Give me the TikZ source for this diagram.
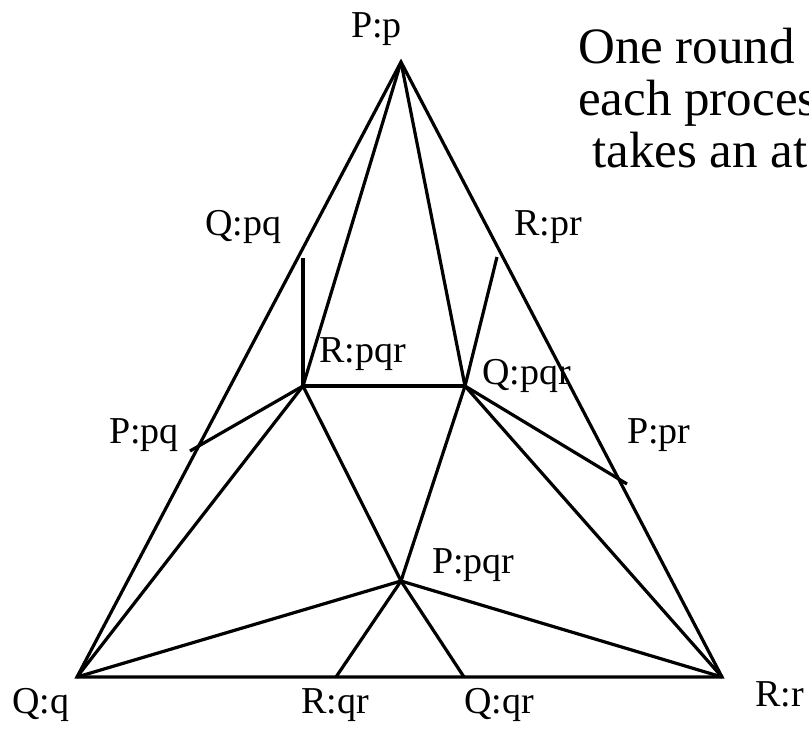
\documentclass[tikz,border=0pt]{standalone}
\usepackage{fontspec}
\setmainfont{Liberation Serif}
\begin{document}
\begin{tikzpicture}[x=1pt,y=-1pt,
  edge/.style={line width=3.2pt,line cap=butt},
  lab/.style={anchor=base west,inner sep=0pt,font=\fontsize{38}{40}\selectfont},
  big/.style={anchor=base west,inner sep=0pt,font=\fontsize{51}{54}\selectfont}]
\clip (0,0) rectangle (809,729);
\fill[white] (0,0) rectangle (809,729);
% vertices
\coordinate (pp) at (401,62);
\coordinate (qq) at (77,677);
\coordinate (rr) at (722,677);
\coordinate (rpqr) at (303,386);
\coordinate (qpqr) at (465,386);
\coordinate (ppqr) at (401,581);
\coordinate (rqr) at (336,677);
\coordinate (qqr) at (464,677);
\coordinate (qpq) at (303,258);
\coordinate (rpr) at (497,257);
\coordinate (ppq) at (190,451);
\coordinate (ppr) at (627,484);
% edges
\draw[edge] (qq) -- (pp) -- (rr) -- cycle;
\draw[edge] (pp) -- (rpqr);
\draw[edge] (pp) -- (qpqr);
\draw[edge] (rpqr) -- (qpqr);
\draw[edge] (rpqr) -- (qq);
\draw[edge] (qpqr) -- (rr);
\draw[edge] (rpqr) -- (ppqr);
\draw[edge] (qpqr) -- (ppqr);
\draw[edge] (ppqr) -- (qq);
\draw[edge] (ppqr) -- (rr);
\draw[edge] (ppqr) -- (rqr);
\draw[edge] (ppqr) -- (qqr);
\draw[edge] (rpqr) -- (qpq);
\draw[edge] (qpqr) -- (rpr);
\draw[edge] (rpqr) -- (ppq);
\draw[edge] (qpqr) -- (ppr);
% labels
\node[lab] (lpp) at (351,37) {P:p};
\node[lab] (lqpq) at (205,235) {Q:pq};
\node[lab] (lrpr) at (514,235) {R:pr};
\node[lab] (lrpqr) at (319,362) {R:pqr};
\node[lab] (lqpqr) at (482,384) {Q:pqr};
\node[lab] (lppq) at (109,443) {P:pq};
\node[lab] (lppr) at (627,443) {P:pr};
\node[lab] (lppqr) at (432,573) {P:pqr};
\node[lab] (lqq) at (12,713) {Q:q};
\node[lab] (lrqr) at (301,713) {R:qr};
\node[lab] (lqqr) at (464,713) {Q:qr};
\node[lab] (lrr) at (755,706) {R:r};
% text
\node[big] (t1) at (578,63) {One round};
\node[big] (t2) at (578,115) {each proces};
\node[big] (t3) at (592,167) {takes an at};
\end{tikzpicture}
\end{document}
